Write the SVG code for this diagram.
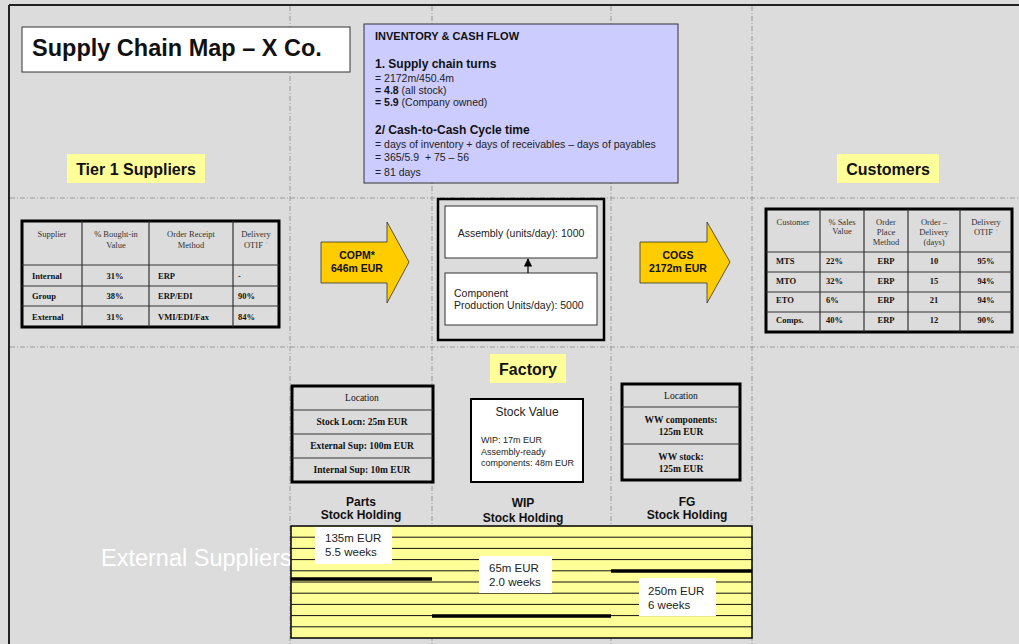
<svg xmlns="http://www.w3.org/2000/svg" width="1019" height="644" viewBox="0 0 1019 644">
  <defs>
    <style>
      .sans { font-family: "Liberation Sans", Arial, sans-serif; }
      .serif { font-family: "Liberation Serif", "Times New Roman", serif; }
      .grid { stroke: #9a9a9a; stroke-width: 1; stroke-dasharray: 5 2 1 2; fill: none; }
      .tag { fill: #ffff99; }
      .tagtxt { font-family: "Liberation Sans", Arial, sans-serif; font-weight: bold; font-size: 16px; fill: #111; text-anchor: middle; }
      .tbl { fill: #dcdcdc; stroke: #000; stroke-width: 3; }
      .cell { stroke: #333; stroke-width: 1.2; fill: none; }
      .th { font-family: "Liberation Serif", "Times New Roman", serif; font-size: 8.5px; fill: #333; text-anchor: middle; }
      .td { font-family: "Liberation Serif", "Times New Roman", serif; font-size: 8.5px; font-weight: bold; fill: #111; }
      .loc { font-family: "Liberation Serif", "Times New Roman", serif; font-size: 9.5px; fill: #111; text-anchor: middle; }
      .bigarrow { fill: #ffcc00; stroke: #333; stroke-width: 0.8; }
      .arrowtxt { font-family: "Liberation Sans", Arial, sans-serif; font-weight: bold; font-size: 10.5px; fill: #111; text-anchor: middle; }
      .info { font-family: "Liberation Sans", Arial, sans-serif; font-size: 10.5px; fill: #222; }
      .hold { font-family: "Liberation Sans", Arial, sans-serif; font-weight: bold; font-size: 12px; fill: #111; text-anchor: middle; }
      .stripe { stroke: #111; stroke-width: 1; }
      .bar { stroke: #000; stroke-width: 3.5; }
      .note { fill: #fff; }
      .notetxt { font-family: "Liberation Sans", Arial, sans-serif; font-size: 11.5px; fill: #222; }
      .star { fill: #bbb; font-size: 6px; }
    </style>
    <marker id="arrowUp" viewBox="0 0 10 10" refX="9" refY="5" markerWidth="7" markerHeight="7" orient="auto">
      <path d="M0,0 L10,5 L0,10 z" fill="#000"/>
    </marker>
  </defs>

  <!-- page background and frame -->
  <rect x="0" y="0" width="1019" height="644" fill="#dcdcdc"/>
  <line x1="9" y1="5" x2="1019" y2="5" stroke="#222" stroke-width="2"/>
  <line x1="9" y1="5" x2="9" y2="644" stroke="#222" stroke-width="2"/>

  <!-- zone grid -->
  <g id="grid">
    <line class="grid" x1="290" y1="6" x2="290" y2="644"/>
    <line class="grid" x1="432" y1="6" x2="432" y2="644"/>
    <line class="grid" x1="611" y1="6" x2="611" y2="644"/>
    <line class="grid" x1="752" y1="6" x2="752" y2="644"/>
    <line class="grid" x1="10" y1="198" x2="1019" y2="198"/>
    <line class="grid" x1="10" y1="347" x2="1019" y2="347"/>
  </g>

  <!-- title -->
  <g id="title">
    <rect x="22" y="27" width="328" height="45" fill="#fff" stroke="#333" stroke-width="1"/>
    <text x="32" y="56" class="sans" font-size="23.5" font-weight="bold" fill="#111">Supply Chain Map – X Co.</text>
  </g>

  <!-- inventory & cash flow panel -->
  <g id="cashflow">
    <rect x="364" y="24" width="314" height="159" fill="#ccccff" stroke="#333" stroke-width="1"/>
    <text x="375" y="40" class="sans" font-size="11" font-weight="bold" fill="#111">INVENTORY &amp; CASH FLOW</text>
    <text x="375" y="68" class="sans" font-size="12" font-weight="bold" fill="#111">1. Supply chain turns</text>
    <text x="375" y="82" class="info">= 2172m/450.4m</text>
    <text x="375" y="94" class="info"><tspan font-weight="bold" fill="#111">= 4.8</tspan> (all stock)</text>
    <text x="375" y="106" class="info"><tspan font-weight="bold" fill="#111">= 5.9</tspan> (Company owned)</text>
    <text x="375" y="134" class="sans" font-size="12" font-weight="bold" fill="#111">2/ Cash-to-Cash Cycle time</text>
    <text x="375" y="148" class="info">= days of inventory + days of receivables – days of payables</text>
    <text x="375" y="161" class="info" xml:space="preserve">= 365/5.9  + 75 – 56</text>
    <text x="375" y="176" class="info" font-size="12">= 81 days</text>
  </g>

  <!-- zone labels -->
  <g id="tier1-label">
    <rect class="tag" x="67" y="154" width="138" height="29"/>
    <text class="tagtxt" x="136" y="175">Tier 1 Suppliers</text>
  </g>
  <g id="customers-label">
    <rect class="tag" x="837" y="154" width="102" height="29"/>
    <text class="tagtxt" x="888" y="175">Customers</text>
  </g>
  <g id="factory-label">
    <rect class="tag" x="490" y="354" width="76" height="29"/>
    <text class="tagtxt" x="528" y="375">Factory</text>
  </g>

  <!-- supplier table -->
  <g id="supplier-table">
    <rect class="tbl" x="22" y="221" width="257" height="106"/>
    <line class="cell" x1="82" y1="221" x2="82" y2="327"/>
    <line class="cell" x1="149" y1="221" x2="149" y2="327"/>
    <line class="cell" x1="233" y1="221" x2="233" y2="327"/>
    <line class="cell" x1="22" y1="265" x2="279" y2="265"/>
    <line class="cell" x1="22" y1="286" x2="279" y2="286"/>
    <line class="cell" x1="22" y1="306" x2="279" y2="306"/>
    <text class="th" x="52" y="237">Supplier</text>
    <text class="th" x="116" y="237">% Bought-in</text>
    <text class="th" x="116" y="248">Value</text>
    <text class="th" x="191" y="237">Order Receipt</text>
    <text class="th" x="191" y="248">Method</text>
    <text class="th" x="256" y="237">Delivery</text>
    <text class="th" x="256" y="248">OTIF <tspan class="star" dy="-2">*</tspan></text>
    <text class="td" x="32" y="279">Internal</text>
    <text class="td" x="115" y="279" text-anchor="middle">31%</text>
    <text class="td" x="158" y="279">ERP</text>
    <text class="td" x="238" y="279">-</text>
    <text class="td" x="32" y="299">Group</text>
    <text class="td" x="115" y="299" text-anchor="middle">38%</text>
    <text class="td" x="158" y="299">ERP/EDI</text>
    <text class="td" x="238" y="299">90%</text>
    <text class="td" x="32" y="320">External</text>
    <text class="td" x="115" y="320" text-anchor="middle">31%</text>
    <text class="td" x="158" y="320">VMI/EDI/Fax</text>
    <text class="td" x="238" y="320">84%</text>
  </g>

  <!-- customer table -->
  <g id="customer-table">
    <rect class="tbl" x="766" y="209" width="246" height="123"/>
    <line class="cell" x1="820" y1="209" x2="820" y2="332"/>
    <line class="cell" x1="864" y1="209" x2="864" y2="332"/>
    <line class="cell" x1="908" y1="209" x2="908" y2="332"/>
    <line class="cell" x1="960" y1="209" x2="960" y2="332"/>
    <line class="cell" x1="766" y1="252" x2="1012" y2="252"/>
    <line class="cell" x1="766" y1="272" x2="1012" y2="272"/>
    <line class="cell" x1="766" y1="292" x2="1012" y2="292"/>
    <line class="cell" x1="766" y1="312" x2="1012" y2="312"/>
    <text class="th" x="793" y="225">Customer</text>
    <text class="th" x="842" y="225">% Sales</text>
    <text class="th" x="842" y="234">Value</text>
    <text class="th" x="886" y="225">Order</text>
    <text class="th" x="886" y="235">Place</text>
    <text class="th" x="886" y="245">Method</text>
    <text class="th" x="934" y="225">Order –</text>
    <text class="th" x="934" y="235">Delivery</text>
    <text class="th" x="934" y="245">(days)</text>
    <text class="th" x="986" y="225">Delivery</text>
    <text class="th" x="986" y="235">OTIF <tspan class="star" dy="-2">*</tspan></text>
    <text class="td" x="776" y="264">MTS</text>
    <text class="td" x="826" y="264">22%</text>
    <text class="td" x="886" y="264" text-anchor="middle">ERP</text>
    <text class="td" x="934" y="264" text-anchor="middle">10</text>
    <text class="td" x="986" y="264" text-anchor="middle">95%</text>
    <text class="td" x="776" y="284">MTO</text>
    <text class="td" x="826" y="284">32%</text>
    <text class="td" x="886" y="284" text-anchor="middle">ERP</text>
    <text class="td" x="934" y="284" text-anchor="middle">15</text>
    <text class="td" x="986" y="284" text-anchor="middle">94%</text>
    <text class="td" x="776" y="303">ETO</text>
    <text class="td" x="826" y="303">6%</text>
    <text class="td" x="886" y="303" text-anchor="middle">ERP</text>
    <text class="td" x="934" y="303" text-anchor="middle">21</text>
    <text class="td" x="986" y="303" text-anchor="middle">94%</text>
    <text class="td" x="776" y="323">Comps.</text>
    <text class="td" x="826" y="323">40%</text>
    <text class="td" x="886" y="323" text-anchor="middle">ERP</text>
    <text class="td" x="934" y="323" text-anchor="middle">12</text>
    <text class="td" x="986" y="323" text-anchor="middle">90%</text>
  </g>

  <!-- flow arrows -->
  <g id="copm">
    <polygon class="bigarrow" points="321,242 387,242 387,222 409,262 387,303 387,283 321,283"/>
    <text class="arrowtxt" x="357" y="259">COPM*</text>
    <text class="arrowtxt" x="357" y="272">646m EUR</text>
  </g>
  <g id="cogs">
    <polygon class="bigarrow" points="640,242 707,242 707,222 730,262 707,303 707,283 640,283"/>
    <text class="arrowtxt" x="678" y="259">COGS</text>
    <text class="arrowtxt" x="678" y="272">2172m EUR</text>
  </g>

  <!-- factory -->
  <g id="factory">
    <rect x="438" y="199" width="166" height="141" fill="#dcdcdc" stroke="#000" stroke-width="2.5"/>
  </g>
  <g id="assembly">
    <rect x="445" y="206" width="152" height="52" fill="#fff" stroke="#333" stroke-width="1"/>
    <text class="sans" x="521" y="237" font-size="10.5" fill="#222" text-anchor="middle">Assembly (units/day): 1000</text>
  </g>
  <g id="component">
    <rect x="445" y="273" width="152" height="52" fill="#fff" stroke="#333" stroke-width="1"/>
    <text class="sans" x="454" y="297" font-size="10.5" fill="#222">Component</text>
    <text class="sans" x="454" y="309" font-size="10.5" fill="#222">Production Units/day): 5000</text>
  </g>

  <g id="connectors">
    <line x1="528" y1="273" x2="528" y2="259" stroke="#000" stroke-width="1.2" marker-end="url(#arrowUp)"/>
  </g>

  <!-- stock holding tables -->
  <g id="parts-stock">
    <rect class="tbl" x="292" y="386" width="141" height="96"/>
    <line class="cell" x1="292" y1="410" x2="433" y2="410"/>
    <line class="cell" x1="292" y1="434" x2="433" y2="434"/>
    <line class="cell" x1="292" y1="458" x2="433" y2="458"/>
    <text class="loc" x="362" y="401">Location</text>
    <text class="loc" x="362" y="425" font-weight="bold">Stock Locn: 25m EUR</text>
    <text class="loc" x="362" y="449" font-weight="bold">External Sup: 100m EUR</text>
    <text class="loc" x="362" y="473" font-weight="bold">Internal Sup: 10m EUR</text>
    <text class="hold" x="361" y="506">Parts</text>
    <text class="hold" x="361" y="519">Stock Holding</text>
  </g>

  <g id="wip-stock">
    <rect x="471" y="399" width="112" height="83" fill="#fff" stroke="#000" stroke-width="2"/>
    <text class="sans" x="527" y="416" font-size="12" fill="#222" text-anchor="middle">Stock Value</text>
    <text class="sans" x="481" y="443" font-size="9" fill="#222">WIP: 17m EUR</text>
    <text class="sans" x="481" y="455" font-size="9" fill="#222">Assembly-ready</text>
    <text class="sans" x="481" y="466" font-size="9" fill="#222">components: 48m EUR</text>
    <text class="hold" x="523" y="507" font-size="13">WIP</text>
    <text class="hold" x="523" y="522" font-size="13">Stock Holding</text>
  </g>

  <g id="fg-stock">
    <rect class="tbl" x="622" y="384" width="118" height="96"/>
    <line class="cell" x1="622" y1="407" x2="740" y2="407"/>
    <line class="cell" x1="622" y1="444" x2="740" y2="444"/>
    <text class="loc" x="681" y="399">Location</text>
    <text class="loc" x="681" y="423" font-weight="bold">WW components:</text>
    <text class="loc" x="681" y="435" font-weight="bold">125m EUR</text>
    <text class="loc" x="681" y="460" font-weight="bold">WW stock:</text>
    <text class="loc" x="681" y="472" font-weight="bold">125m EUR</text>
    <text class="hold" x="687" y="506">FG</text>
    <text class="hold" x="687" y="519">Stock Holding</text>
  </g>

  <!-- external suppliers caption sits behind the stock timeline -->
  <text class="sans" x="101" y="566" font-size="23.5" fill="#fff">External Suppliers</text>

  <!-- stock timeline -->
  <g id="timeline">
    <rect x="291" y="526" width="461" height="112" fill="#ffff99" stroke="#000" stroke-width="1.5"/>
    <line class="stripe" x1="291" y1="537.2" x2="752" y2="537.2"/>
    <line class="stripe" x1="291" y1="548.4" x2="752" y2="548.4"/>
    <line class="stripe" x1="291" y1="559.6" x2="752" y2="559.6"/>
    <line class="stripe" x1="291" y1="570.8" x2="752" y2="570.8"/>
    <line class="stripe" x1="291" y1="582" x2="752" y2="582"/>
    <line class="stripe" x1="291" y1="593.2" x2="752" y2="593.2"/>
    <line class="stripe" x1="291" y1="604.4" x2="752" y2="604.4"/>
    <line class="stripe" x1="291" y1="615.6" x2="752" y2="615.6"/>
    <line class="stripe" x1="291" y1="626.8" x2="752" y2="626.8"/>
    <line class="bar" x1="291" y1="579" x2="432" y2="579"/>
    <line class="bar" x1="432" y1="616" x2="611" y2="616"/>
    <line class="bar" x1="611" y1="571" x2="752" y2="571"/>
  </g>
  <g id="parts-weeks">
    <rect class="note" x="315" y="527" width="77" height="37"/>
    <text class="notetxt" x="325" y="542">135m EUR</text>
    <text class="notetxt" x="325" y="556">5.5 weeks</text>
  </g>
  <g id="wip-weeks">
    <rect class="note" x="479" y="556" width="73" height="37"/>
    <text class="notetxt" x="489" y="572">65m EUR</text>
    <text class="notetxt" x="489" y="586">2.0 weeks</text>
  </g>
  <g id="fg-weeks">
    <rect class="note" x="639" y="578" width="77" height="38"/>
    <text class="notetxt" x="648" y="595">250m EUR</text>
    <text class="notetxt" x="648" y="609">6 weeks</text>
  </g>
</svg>
